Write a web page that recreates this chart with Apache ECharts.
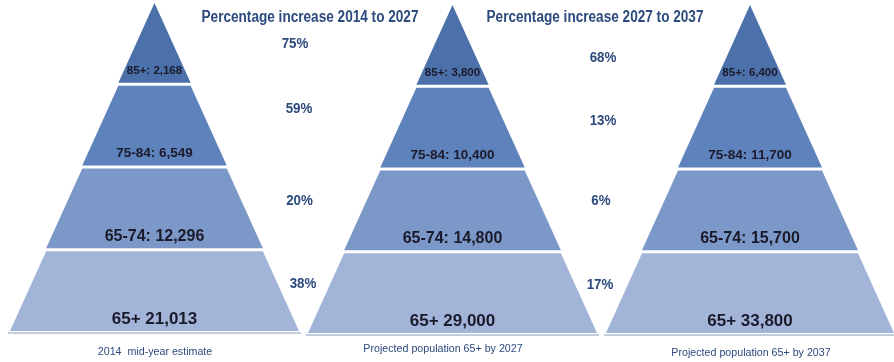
<!DOCTYPE html>
<html><head><meta charset="utf-8">
<script src="https://cdn.jsdelivr.net/npm/echarts@6/dist/echarts.min.js"></script>
<style>html,body{margin:0;padding:0;background:#fff}#c{width:894px;height:362px}</style>
</head><body><div id="c"></div>
<script>
// ---- data ----
const ageBands = ['85+', '75-84', '65-74', '65+'];
const bandWidths = [1, 2, 3, 4];            // relative width at the base of each band (schematic pyramid)
const pop2014 = [2168, 6549, 12296, 21013];
const pop2027 = [3800, 10400, 14800, 29000];
const pop2037 = [6400, 11700, 15700, 33800];
const captions = ['2014  mid-year estimate', 'Projected population 65+ by 2027', 'Projected population 65+ by 2037'];
const headings = ['Percentage increase 2014 to 2027', 'Percentage increase 2027 to 2037'];
const pct2014to2027 = ['75%', '59%', '20%', '38%'];
const pct2027to2037 = ['68%', '13%', '6%', '17%'];

// ---- styling / layout ----
const bandColors = ['#4b70aa', '#5e82bc', '#7c98c8', '#a2b5d9'];
const bandFont = [11.5, 13.5, 16, 17];
const pyramids = [
  {left: 10, top: 3, width: 289, height: 328, values: pop2014},
  {left: 308, top: 5, width: 289, height: 328, values: pop2027},
  {left: 606, top: 5, width: 288, height: 328, values: pop2037}
];
const captionPos = [[155, 352], [443, 349], [751, 353]];
const headingPos = [[310, 18], [595, 18]];
const pctX = [[295, 299, 299.5, 303], [603, 603, 601, 600]];
const pctY = [[44, 109, 201, 284], [58, 121, 201, 285]];
const navy = '#2c4a7d';
const sans = "'Liberation Sans', Arial, sans-serif";

function fmt(name, v) {
  const n = v.toLocaleString('en-US');
  return name === '65+' ? name + ' ' + n : name + ': ' + n;
}

const series = pyramids.map(p => ({
  type: 'funnel',
  left: p.left, top: p.top, width: p.width, height: p.height,
  sort: 'ascending', min: 0, max: 4, minSize: '0%', maxSize: '100%', gap: 3,
  silent: true,
  labelLine: {show: false},
  data: ageBands.map((b, i) => ({
    name: b,
    value: bandWidths[i],
    itemStyle: {color: bandColors[i], borderWidth: 0},
    label: {
      show: true, position: 'inside',
      formatter: '{s| }\n{t|' + fmt(b, p.values[i]) + '}',
      textBorderWidth: 0, textBorderColor: 'transparent',
      rich: {
        s: {fontSize: 2, lineHeight: 56},
        t: {color: '#1a1a2a', fontFamily: sans, fontWeight: 'bold', fontSize: bandFont[i], lineHeight: bandFont[i] + 2,
            textBorderWidth: 0, textBorderColor: 'transparent'}
      }
    }
  }))
}));

const graphic = [];
pyramids.forEach(p => {
  graphic.push({type: 'rect', silent: true,
    shape: {x: p.left - 2, y: p.top + p.height + 1, width: p.width + 4, height: 2},
    style: {fill: '#c3cddd'}});
});
headings.forEach((h, i) => graphic.push({type: 'text', silent: true, x: headingPos[i][0], y: headingPos[i][1],
  scaleX: 0.85,
  style: {text: h, fill: navy, font: 'bold 16px ' + sans, textAlign: 'center', textVerticalAlign: 'middle'}}));
[pct2014to2027, pct2027to2037].forEach((col, c) => col.forEach((t, i) => graphic.push({type: 'text', silent: true,
  x: pctX[c][i], y: pctY[c][i], scaleX: 0.92,
  style: {text: t, fill: navy, font: 'bold 14.5px ' + sans, textAlign: 'center', textVerticalAlign: 'middle'}})));
captions.forEach((t, i) => graphic.push({type: 'text', silent: true, x: captionPos[i][0], y: captionPos[i][1],
  scaleX: 0.97,
  style: {text: t, fill: navy, font: '11px ' + sans, textAlign: 'center', textVerticalAlign: 'middle'}}));

const chart = echarts.init(document.getElementById('c'), null, {renderer: 'canvas'});
chart.setOption({animation: false, backgroundColor: '#fff', series, graphic});
</script></body></html>
